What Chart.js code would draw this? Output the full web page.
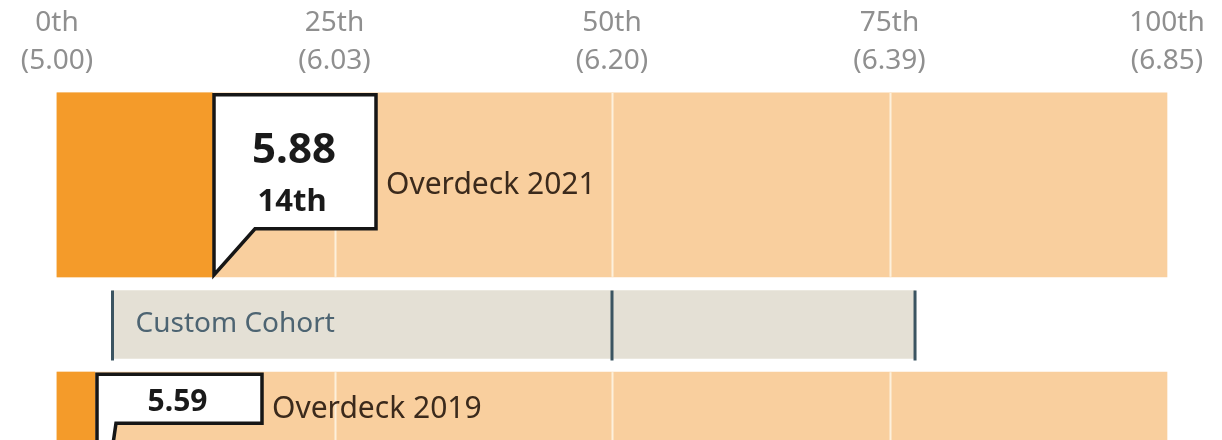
<!DOCTYPE html>
<html>
<head>
<meta charset="utf-8">
<script src="https://cdn.jsdelivr.net/npm/chart.js@4"></script>
<style>
    body { margin: 0; background: #fff; overflow: hidden; }
    #wrap { width: 1222px; height: 560px; position: relative; }
</style>
</head>
<body>
<div id="wrap"><canvas id="chart"></canvas></div>
<script>
// 數據
const rows = ['Overdeck 2021', 'Custom Cohort', 'Overdeck 2019'];
const percentiles = [14, null, 3.4];
const scores = ['5.88', null, '5.59'];
const rankLabels = ['14th', null, null];
const cohortRange = [5, 77.3];
const cohortMarks = [5, 50, 77.3];
const tickPcts = [0, 25, 50, 75, 100];
const tickScores = ['5.00', '6.03', '6.20', '6.39', '6.85'];

const FONT = '"Noto Sans", "Open Sans", sans-serif';

// 疊加層：格線、群組標記、標註框
const overlay = {
    id: 'overlay',
    afterDatasetsDraw(chart) {
        const ctx = chart.ctx;
        const xs = chart.scales.x;
        const bg = chart.getDatasetMeta(1).data;
        const fg = chart.getDatasetMeta(0).data;
        const co = chart.getDatasetMeta(2).data[1];
        ctx.save();

        // 格線只畫在橘色條上
        ctx.strokeStyle = '#fdf0dc';
        ctx.lineWidth = 2;
        [0, 2].forEach(i => {
            const b = bg[i];
            const top = b.y - b.height / 2, bot = b.y + b.height / 2;
            [25, 50, 75].forEach(p => {
                const px = Math.round(xs.getPixelForValue(p)) + 0.5;
                ctx.beginPath();
                ctx.moveTo(px, top);
                ctx.lineTo(px, bot);
                ctx.stroke();
            });
        });

        // 自訂群組
        const cTop = co.y - co.height / 2, cBot = co.y + co.height / 2;
        ctx.strokeStyle = '#3b5461';
        ctx.lineWidth = 3;
        cohortMarks.forEach(p => {
            const px = xs.getPixelForValue(p);
            ctx.beginPath();
            ctx.moveTo(px, cTop);
            ctx.lineTo(px, cBot + 2);
            ctx.stroke();
        });
        ctx.fillStyle = '#4d6472';
        ctx.font = '28px ' + FONT;
        ctx.textBaseline = 'middle';
        ctx.textAlign = 'left';
        ctx.fillText(rows[1], xs.getPixelForValue(cohortRange[0]) + 23, co.y);

        // 標註框
        const boxes = [
            { w: 162, h: 134, tail: 41, textY: 185 },
            null,
            { w: 165, h: 49, tail: 19, textY: 409 }
        ];
        [0, 2].forEach(i => {
            const b = fg[i];
            const s = boxes[i];
            const left = Math.round(b.x) + 2;
            const top = b.y - b.height / 2 + 2;
            const bottom = top + s.h;
            const tip = b.y + b.height / 2 - 2;
            ctx.beginPath();
            ctx.moveTo(left, tip);
            ctx.lineTo(left, top);
            ctx.lineTo(left + s.w, top);
            ctx.lineTo(left + s.w, bottom);
            ctx.lineTo(left + s.tail, bottom);
            ctx.closePath();
            ctx.fillStyle = '#ffffff';
            ctx.fill();
            ctx.strokeStyle = '#161616';
            ctx.lineWidth = 3.5;
            ctx.lineJoin = 'miter';
            ctx.stroke();

            const cx = left + s.w / 2;
            ctx.fillStyle = '#1a1a1a';
            ctx.textAlign = 'center';
            if (rankLabels[i]) {
                ctx.font = 'bold 42px ' + FONT;
                ctx.fillText(scores[i], cx - 1, top + 56);
                ctx.font = 'bold 31px ' + FONT;
                ctx.fillText(rankLabels[i], cx - 3, top + 107);
            } else {
                ctx.font = 'bold 30px ' + FONT;
                ctx.fillText(scores[i], cx - 2, top + s.h / 2 + 4);
            }
            ctx.textAlign = 'left';
            ctx.fillStyle = '#3b2a1c';
            ctx.font = '30px ' + FONT;
            ctx.fillText(rows[i], left + s.w + 10, s.textY);
        });
        ctx.restore();
    }
};

new Chart(document.getElementById('chart'), {
    type: 'bar',
    data: {
        labels: rows,
        datasets: [{
            label: 'percentile',
            data: percentiles,
            backgroundColor: '#f49b2a',
            barThickness: 184,
            grouped: false,
            clip: false,
            order: 1
        }, {
            label: 'range',
            data: percentiles.map(v => v === null ? null : 100),
            backgroundColor: '#f9cf9e',
            barThickness: 184,
            grouped: false,
            clip: false,
            order: 2
        }, {
            label: 'cohort',
            data: [null, cohortRange, null],
            backgroundColor: '#e4e0d5',
            barThickness: 68,
            grouped: false,
            clip: false,
            order: 3
        }]
    },
    options: {
        indexAxis: 'y',
        responsive: true,
        maintainAspectRatio: false,
        animation: false,
        layout: { padding: { left: 57, right: 55, top: 0, bottom: 26 } },
        plugins: {
            legend: { display: false },
            tooltip: { enabled: false }
        },
        scales: {
            x: {
                position: 'top',
                min: 0,
                max: 100,
                afterBuildTicks: axis => {
                    axis.ticks = tickPcts.map(v => ({ value: v }));
                },
                afterFit: axis => {
                    axis.height = 115;
                    axis.paddingLeft = 0;
                    axis.paddingRight = 0;
                },
                grid: { display: false, drawTicks: false },
                border: { display: false },
                ticks: {
                    padding: 35,
                    color: '#8f8f8f',
                    font: { family: FONT, size: 28, lineHeight: 1.36 },
                    maxRotation: 0,
                    autoSkip: false,
                    callback: (v, i) => [tickPcts[i] + 'th', '(' + tickScores[i] + ')']
                }
            },
            y: {
                display: false
            }
        }
    },
    plugins: [overlay]
});
</script>
</body>
</html>
